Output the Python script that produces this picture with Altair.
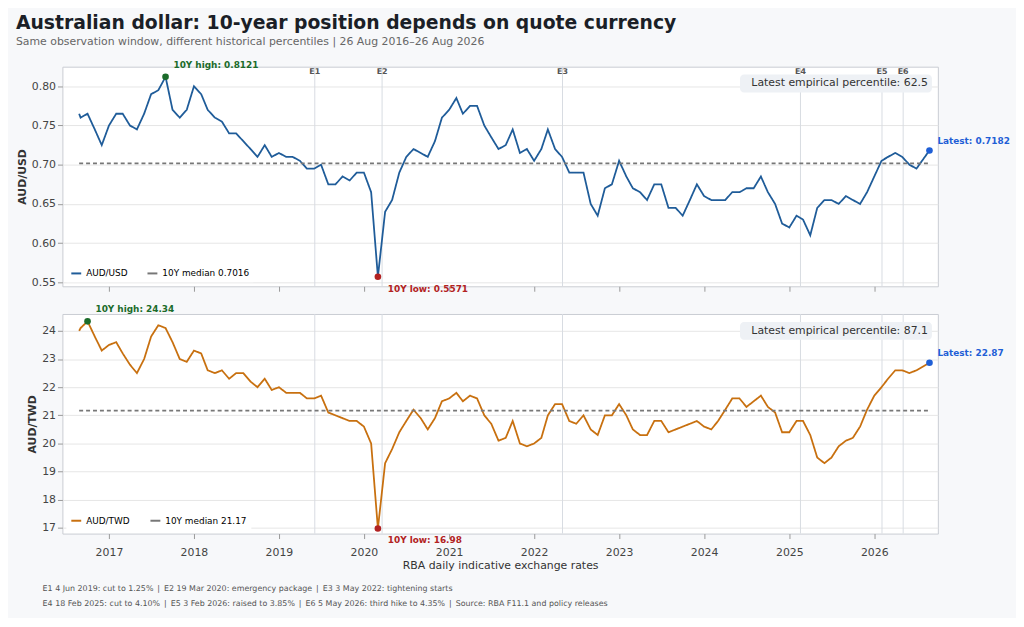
import pandas as pd
import altair as alt

usd = [.765, .76, .765, .745, .725,
       .75, .765, .765, .75, .745, .765, .79, .795, .8121, .77, .76, .77,
       .80, .79, .77, .76, .755, .74, .74, .73, .72, .71, .725, .71,
       .715, .71, .71, .705, .695, .695, .70, .675, .675, .685, .68, .69,
       .69, .665, .5571, .64, .655, .69, .71, .72, .715, .71, .73, .76,
       .77, .785, .765, .775, .775, .75, .735, .72, .725, .745, .715, .72,
       .705, .72, .745, .72, .71, .69, .69, .69, .65, .635, .67, .675,
       .705, .685, .67, .665, .655, .675, .675, .645, .645, .635, .655, .675,
       .66, .655, .655, .655, .665, .665, .67, .67, .685, .665, .65, .625,
       .62, .635, .63, .61, .645, .655, .655, .65, .66, .655, .65, .665,
       .685, .705, .71, .715, .71, .70, .695, .7182]
twd = [24.0, 24.1, 24.34, 23.8, 23.3,
       23.5, 23.6, 23.2, 22.8, 22.5, 23.0, 23.8, 24.2, 24.1, 23.6, 23.0, 22.9,
       23.3, 23.2, 22.6, 22.5, 22.6, 22.3, 22.5, 22.5, 22.2, 22.0, 22.3, 21.9,
       22.0, 21.8, 21.8, 21.8, 21.6, 21.6, 21.7, 21.1, 21.0, 20.9, 20.8, 20.8,
       20.6, 20.0, 16.98, 19.3, 19.8, 20.4, 20.8, 21.2, 20.9, 20.5, 20.9, 21.5,
       21.6, 21.8, 21.5, 21.7, 21.6, 21.0, 20.7, 20.1, 20.2, 20.8, 20.0, 19.9,
       20.0, 20.2, 21.0, 21.4, 21.4, 20.8, 20.7, 21.0, 20.5, 20.3, 21.0, 21.0,
       21.4, 21.0, 20.5, 20.3, 20.3, 20.8, 20.8, 20.4, 20.5, 20.6, 20.7, 20.8,
       20.6, 20.5, 20.8, 21.2, 21.6, 21.6, 21.3, 21.5, 21.7, 21.3, 21.1, 20.4,
       20.4, 20.8, 20.8, 20.3, 19.5, 19.3, 19.5, 19.9, 20.1, 20.2, 20.6, 21.2,
       21.7, 22.0, 22.3, 22.6, 22.6, 22.5, 22.6, 22.87]
dates = list(pd.date_range("2016-08-01", "2026-08-01", freq="MS"))
dates[0] = pd.Timestamp("2016-08-26")
dates[-1] = pd.Timestamp("2026-08-26")

event_names = ["E1", "E2", "E3", "E4", "E5", "E6"]
event_dates = ["2019-06-04", "2020-03-19", "2022-05-03", "2025-02-18", "2026-02-03", "2026-05-05"]

W, H = 885, 222
FONT = "DejaVu Sans"
x_dom = [pd.Timestamp("2016-06-15").isoformat(), pd.Timestamp("2026-10-01").isoformat()]


def panel(values, pair, med_label, median, pct, ydom, fmt, color, show_x, show_events):
    ser = pd.DataFrame({"date": dates, "value": values, "key": pair})
    med_key = f"10Y median {med_label}"
    med = pd.DataFrame({"date": [dates[0], dates[-1]], "value": [median] * 2, "key": med_key})
    long = pd.concat([ser, med])
    x = alt.X("date:T").scale(domain=x_dom).title(
        "RBA daily indicative exchange rates" if show_x else None
    ).axis(
        labels=show_x, grid=False, format="%Y", tickCount=10, labelColor="#444",
        labelFontSize=11, titleFontWeight="normal", titleFontSize=11, titleColor="#333",
        titlePadding=2, labelPadding=8
    )
    y = alt.Y("value:Q").scale(domain=ydom, nice=False).title(pair).axis(
        format=fmt, gridColor="#e6e6e6", labelColor="#444", labelFontSize=11,
        titleFontSize=11, titleColor="#333", tickCount=6
    )
    lines = alt.Chart(long).mark_line(strokeWidth=1.8).encode(
        x=x, y=y,
        color=alt.Color("key:N").scale(domain=[pair, med_key], range=[color, "#777"]).legend(
            title=None, orient="bottom-left", direction="horizontal", labelFontSize=9,
            symbolType="stroke", symbolStrokeWidth=2, fillColor="white", padding=4,
            columnPadding=16, offset=4
        ),
        strokeDash=alt.StrokeDash("key:N").scale(domain=[pair, med_key], range=[[1, 0], [4, 3]]).legend(None),
    )
    ev = pd.DataFrame({"date": event_dates, "name": event_names})
    layers = [alt.Chart(ev).mark_rule(color="#d8dce2", strokeWidth=1).encode(x="date:T")]
    if show_events:
        layers.append(alt.Chart(ev).mark_text(
            baseline="top", fontSize=8, fontWeight="bold", color="#555", font=FONT
        ).encode(x="date:T", y=alt.value(1), text="name:N"))
    layers.append(lines)
    i_hi = values.index(max(values))
    i_lo = values.index(min(values))
    pts = pd.DataFrame({
        "date": [dates[i_hi], dates[i_lo], dates[-1]],
        "value": [values[i_hi], values[i_lo], values[-1]],
        "c": ["#1b6b2a", "#b22222", "#1f5fd6"],
        "label": [f"10Y high: {values[i_hi]}", f"10Y low: {values[i_lo]}", f"Latest: {values[-1]}"],
        "kind": ["hi", "lo", "last"],
    })
    layers.append(alt.Chart(pts).mark_circle(size=45, opacity=1).encode(
        x="date:T", y="value:Q", color=alt.Color("c:N").scale(None)))
    for kind, kw in [("hi", dict(dx=8, dy=-12, align="left")),
                     ("lo", dict(dx=10, dy=12, align="left")),
                     ("last", dict(dx=8, dy=-10, align="left"))]:
        layers.append(alt.Chart(pts[pts.kind == kind]).mark_text(
            fontSize=9, fontWeight="bold", font=FONT, **kw
        ).encode(x="date:T", y="value:Q", text="label:N", color=alt.Color("c:N").scale(None)))
    box = pd.DataFrame({"t": [f"Latest empirical percentile: {pct}"]})
    layers.append(alt.Chart(box).mark_rect(color="#eef1f5", cornerRadius=4).encode(
        x=alt.value(W - 200), x2=alt.value(W - 6), y=alt.value(8), y2=alt.value(26)))
    layers.append(alt.Chart(box).mark_text(align="right", fontSize=11, color="#333", font=FONT).encode(
        x=alt.value(W - 10), y=alt.value(17), text="t:N"))
    return alt.layer(*layers).resolve_scale(color="independent").properties(width=W, height=H)


top = panel(usd, "AUD/USD", "0.7016", 0.7016, 62.5, [0.545, 0.825], ".2f", "#1f5c99", False, True)
bot = panel(twd, "AUD/TWD", "21.17", 21.17, 87.1, [16.8, 24.6], ".0f", "#c8700f", True, False)

notes = pd.DataFrame({
    "t": ["E1 4 Jun 2019: cut to 1.25%\u2002|\u2002E2 19 Mar 2020: emergency package\u2002|\u2002E3 3 May 2022: tightening starts",
          "E4 18 Feb 2025: cut to 4.10%\u2002|\u2002E5 3 Feb 2026: raised to 3.85%\u2002|\u2002E6 5 May 2026: third hike to 4.35%\u2002|\u2002Source: RBA F11.1 and policy releases"],
    "row": [0, 1],
})
foot = alt.Chart(notes).mark_text(align="left", baseline="middle", fontSize=8, color="#555", font=FONT).encode(
    x=alt.value(-20), y=alt.Y("row:O").axis(None), text="t:N"
).properties(width=W, height=30, view=alt.ViewConfig(stroke="transparent", fill="transparent"))

chart = alt.vconcat(top, bot, foot, spacing=10).resolve_scale(
    color="independent", strokeDash="independent"
).properties(
    title=alt.TitleParams(
        "Australian dollar: 10-year position depends on quote currency",
        subtitle="Same observation window, different historical percentiles | 26 Aug 2016–26 Aug 2026",
        anchor="start", fontSize=19, fontWeight="bold", color="#1b1f27", subtitleFontSize=11,
        subtitleColor="#666", font=FONT, subtitleFont=FONT, offset=14,
    )
).configure(background="#f7f8fa", font=FONT, padding={"left": 8, "top": 2, "right": 5, "bottom": 2}
).configure_view(fill="white", stroke="#c9ccd2"
).configure_axis(domain=False, tickColor="#999", labelFont=FONT, titleFont=FONT)

chart.save("out.html", embed_options={"renderer": "svg", "actions": False})
